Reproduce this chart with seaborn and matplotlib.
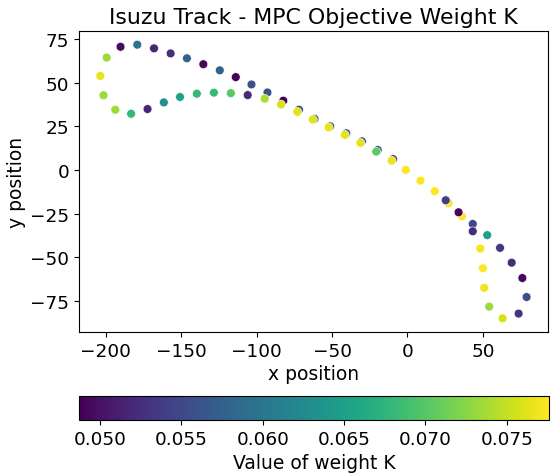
import numpy as np
import pandas as pd
import matplotlib
matplotlib.use("Agg")
import matplotlib.pyplot as plt
import seaborn as sns
from matplotlib.colors import Normalize
from matplotlib.cm import ScalarMappable

# Data (in drawing order)
x_pos = [
    # lower-right yellow segment
    8.65, 18.1, 27.3, 36.1, 48.3, 50.0, 50.9, 54.2, 63.1,
    # lower-right purple return
    73.7, 79.0, 76.2, 69.1, 61.4, 52.9, 43.3, 43.3, 33.9, 25.4,
    # blue diagonal, top row, left loop, lower row
    -9.5, -19.7, -30.2, -40.5, -51.2, -61.6, -71.9, -82.3, -92.8, -103.4,
    -113.8, -124.4, -135.3, -146.2, -157.0, -168.0, -179.1, -190.2,
    -199.4, -203.6, -201.5, -193.7, -183.2, -172.3, -161.5, -150.8,
    -139.6, -128.3, -117.1, -105.9, -94.6,
    # yellow diagonal (front)
    -83.8, -73.0, -62.7, -52.2, -41.5, -31.2, -20.7, -10.5, -1.1,
]
y_pos = [
    -6.15, -12.2, -19.1, -26.6, -45.1, -56.4, -67.6, -78.4, -85.1,
    -82.4, -72.9, -62.0, -53.2, -44.7, -37.4, -31.0, -35.2, -24.3, -17.4,
    6.2, 11.4, 16.4, 21.0, 25.0, 29.3, 34.5, 39.7, 44.4, 49.0,
    53.2, 57.1, 60.6, 64.0, 66.8, 69.7, 71.8, 70.6,
    64.4, 53.9, 42.8, 34.5, 32.2, 34.9, 38.7, 41.8,
    43.7, 44.3, 44.0, 42.9, 40.8,
    37.5, 33.3, 28.9, 24.4, 20.1, 15.5, 10.5, 5.3, 0.0,
]
weight_k = [
    0.0776, 0.0776, 0.0776, 0.0776, 0.0772, 0.0774, 0.0770, 0.0733, 0.0758,
    0.0530, 0.0555, 0.0492, 0.0523, 0.0533, 0.0650, 0.0548, 0.0522, 0.0490, 0.0540,
    0.0555, 0.0555, 0.0560, 0.0560, 0.0560, 0.0560, 0.0555, 0.0487, 0.0560, 0.0560,
    0.0490, 0.0578, 0.0493, 0.0578, 0.0525, 0.0516, 0.0600, 0.0495,
    0.0732, 0.0765, 0.0732, 0.0735, 0.0680, 0.0518, 0.0630, 0.0655,
    0.0680, 0.0682, 0.0700, 0.0520, 0.0740,
    0.0760, 0.0762, 0.0762, 0.0765, 0.0765, 0.0765, 0.0703, 0.0768, 0.0776,
]
x_ticks = [-200, -150, -100, -50, 0, 50]
y_ticks = [-75, -50, -25, 0, 25, 50, 75]
cbar_ticks = [0.050, 0.055, 0.060, 0.065, 0.070, 0.075]

df = pd.DataFrame({"x": x_pos, "y": y_pos, "K": weight_k})
norm = Normalize(vmin=min(weight_k), vmax=max(weight_k))

fig = plt.figure(figsize=(5.51, 4.77), dpi=100)
ax = fig.add_axes([0.1434, 0.3019, 0.851, 0.631])
cax = fig.add_axes([0.1434, 0.1174, 0.853, 0.0503])

sns.scatterplot(data=df, x="x", y="y", hue="K", palette="viridis",
                hue_norm=norm, legend=False, s=40, linewidth=0.4,
                edgecolor="white", ax=ax)

ax.set_xticks(x_ticks)
ax.set_yticks(y_ticks)
ax.margins(0.05)
ax.tick_params(labelsize=13.3)
ax.set_xlabel("x position", fontsize=13.5, labelpad=3)
ax.set_ylabel("y position", fontsize=13.5, labelpad=3)
ax.set_title("Isuzu Track - MPC Objective Weight K", fontsize=15.8)

sm = ScalarMappable(norm=norm, cmap="viridis")
sm.set_array([])
cb = fig.colorbar(sm, cax=cax, orientation="horizontal")
cb.set_ticks(cbar_ticks)
cb.ax.tick_params(labelsize=13.3)
cb.set_label("Value of weight K", fontsize=13.5)

fig.savefig("out.png", dpi=100)
